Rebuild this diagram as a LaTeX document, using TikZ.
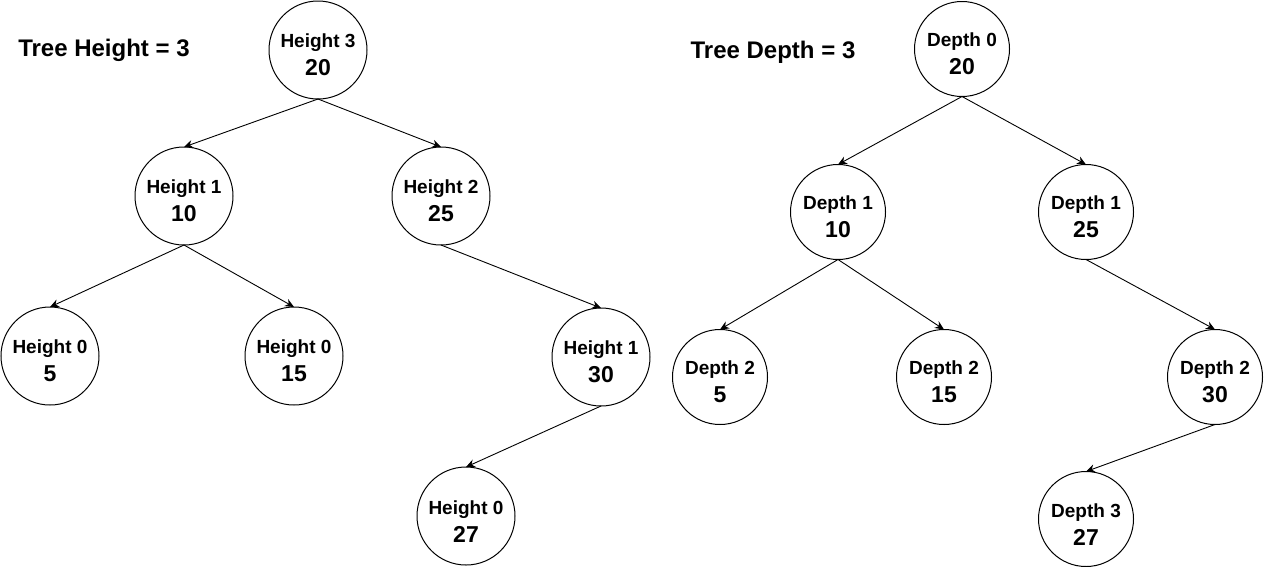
\documentclass[tikz,border=0pt]{standalone}
\usepackage{fontspec}
\setmainfont{Liberation Sans}
\usetikzlibrary{arrows.meta}
\newcommand\nodetxt[2]{\rule{0pt}{24pt}#1\\{\fontsize{23}{28}\selectfont #2}}
\begin{document}
\begin{tikzpicture}[x=1pt,y=-1pt,
  tnode/.style={circle,draw,line width=1pt,inner sep=0pt,outer sep=0pt,minimum size=#1,align=center,font=\bfseries\fontsize{19}{28}\selectfont},
  tnode/.default=98pt,
  arr/.style={-{Stealth[length=9pt,width=8pt,inset=3pt]},line width=0.9pt},
  ttl/.style={font=\bfseries\fontsize{24}{28}\selectfont,inner sep=0pt}]
\useasboundingbox[fill=white] (0,0) rectangle (1268,566);

% ---- Left tree (height) ----
\node[ttl] (th) at (104,50) {Tree Height = 3};
\node[tnode] (h20) at (318,50) {\nodetxt{Height 3}{20}};
\node[tnode] (h10) at (184,196) {\nodetxt{Height 1}{10}};
\node[tnode] (h25) at (441,196) {\nodetxt{Height 2}{25}};
\node[tnode] (h5) at (50,356) {\nodetxt{Height 0}{5}};
\node[tnode] (h15) at (294,356) {\nodetxt{Height 0}{15}};
\node[tnode] (h30) at (601,357) {\nodetxt{Height 1}{30}};
\node[tnode] (h27) at (466,516) {\nodetxt{Height 0}{27}};

\draw[arr] (h20.south) -- (h10.north);
\draw[arr] (h20.south) -- (h25.north);
\draw[arr] (h10.south) -- (h5.north);
\draw[arr] (h10.south) -- (h15.north);
\draw[arr] (h25.south) -- (h30.north);
\draw[arr] (h30.south) -- (h27.north);

% ---- Right tree (depth) ----
\node[ttl] (td) at (773,52) {Tree Depth = 3};
\node[tnode=95pt] (d20) at (962,49) {\nodetxt{Depth 0}{20}};
\node[tnode=95pt] (d10) at (838,212) {\nodetxt{Depth 1}{10}};
\node[tnode=95pt] (d25) at (1086,212) {\nodetxt{Depth 1}{25}};
\node[tnode=95pt] (d5) at (720,377) {\nodetxt{Depth 2}{5}};
\node[tnode=95pt] (d15) at (944,377) {\nodetxt{Depth 2}{15}};
\node[tnode=95pt] (d30) at (1215,377) {\nodetxt{Depth 2}{30}};
\node[tnode=95pt] (d27) at (1086,519) {\nodetxt{Depth 3}{27}};

\draw[arr] (d20.south) -- (d10.north);
\draw[arr] (d20.south) -- (d25.north);
\draw[arr] (d10.south) -- (d5.north);
\draw[arr] (d10.south) -- (d15.north);
\draw[arr] (d25.south) -- (d30.north);
\draw[arr] (d30.south) -- (d27.north);
\end{tikzpicture}
\end{document}
